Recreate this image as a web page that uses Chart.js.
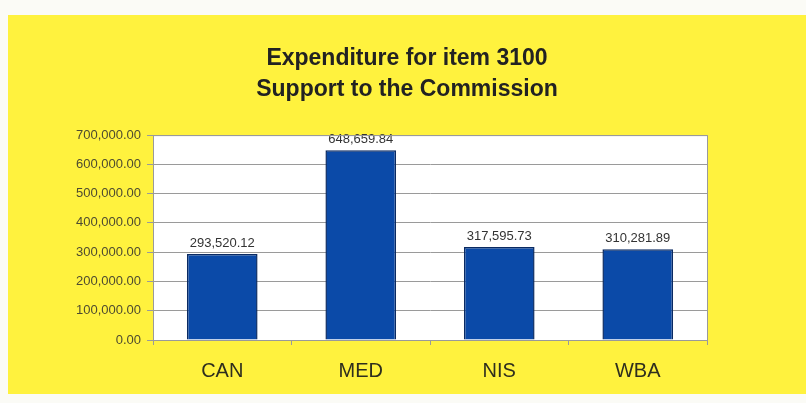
<!DOCTYPE html>
<html>
<head>
<meta charset="utf-8">
<script src="https://cdn.jsdelivr.net/npm/chart.js@4/dist/chart.umd.min.js"></script>
<style>
  body { margin: 0; background: #fbfbf6; }
  #box { position: absolute; left: 8px; top: 15px; width: 798px; height: 379px; background: #fff23e; }
</style>
</head>
<body>
<div id="box"><canvas id="chart" width="798" height="379"></canvas></div>
<script>
// regions and their spending
const categories = ["CAN", "MED", "NIS", "WBA"];
const spending = [293520.12, 648659.84, 317595.73, 310281.89];
const titleLines = ["Expenditure for item 3100", "Support to the Commission"];

const FONT = "Arial, 'Liberation Sans', sans-serif";

function fmt(v) {
    return v.toLocaleString("en-US", {minimumFractionDigits: 2, maximumFractionDigits: 2});
}

// white plot area with grey frame
const plotBg = {
    id: "plotBg",
    beforeDraw(chart) {
        const a = chart.chartArea, ctx = chart.ctx;
        ctx.save();
        ctx.fillStyle = "#ffffff";
        ctx.fillRect(a.left, a.top, a.right - a.left, a.bottom - a.top);
        ctx.restore();
    },
    afterDraw(chart) {
        const a = chart.chartArea, ctx = chart.ctx;
        ctx.save();
        ctx.strokeStyle = "#9a9a9a";
        ctx.lineWidth = 1;
        ctx.strokeRect(a.left + 0.5, a.top + 0.5, a.right - a.left, a.bottom - a.top);
        ctx.restore();
    }
};

// value labels above each bar
const barLabels = {
    id: "barLabels",
    afterDatasetsDraw(chart) {
        const ctx = chart.ctx;
        const meta = chart.getDatasetMeta(0);
        ctx.save();
        ctx.font = "13px " + FONT;
        ctx.fillStyle = "#333333";
        ctx.textAlign = "center";
        ctx.textBaseline = "bottom";
        meta.data.forEach(function (bar, i) {
            ctx.fillText(fmt(spending[i]), bar.x, bar.y - 4);
        });
        ctx.restore();
    }
};

new Chart("chart", {
    type: "bar",
    data: {
        labels: categories,
        datasets: [{
            data: spending,
            backgroundColor: "#0b4aa8",
            borderColor: "#0a2a62",
            borderWidth: 1.5,
            categoryPercentage: 1,
            barPercentage: 0.51
        }]
    },
    options: {
        responsive: false,
        animation: false,
        layout: {padding: 0},
        plugins: {
            legend: {display: false},
            tooltip: {enabled: false},
            title: {
                display: true,
                text: titleLines,
                color: "#222222",
                font: {family: FONT, size: 23, weight: "bold", lineHeight: 1.35},
                padding: {top: 28, bottom: 30}
            }
        },
        scales: {
            x: {
                afterFit(scale) { scale.height = 54; },
                grid: {display: true, drawOnChartArea: false, drawTicks: true, tickLength: 5, color: "#9a9a9a", offset: true},
                border: {color: "#9a9a9a"},
                ticks: {color: "#2e2e1e", padding: 14, font: {family: FONT, size: 20}}
            },
            y: {
                min: 0,
                max: 700000,
                afterFit(scale) { scale.width = 145; },
                grid: {color: "#9a9a9a", tickLength: 6},
                border: {color: "#9a9a9a"},
                ticks: {
                    stepSize: 100000,
                    color: "#4e4b30",
                    padding: 6,
                    font: {family: FONT, size: 13},
                    callback: function (v) { return fmt(v); }
                }
            },
            // empty right-hand scale: keeps the yellow margin right of the plot
            yRight: {
                position: "right",
                display: true,
                afterFit(scale) { scale.width = 99; },
                grid: {display: false},
                border: {display: false},
                ticks: {display: false}
            }
        }
    },
    plugins: [plotBg, barLabels]
});
</script>
</body>
</html>
